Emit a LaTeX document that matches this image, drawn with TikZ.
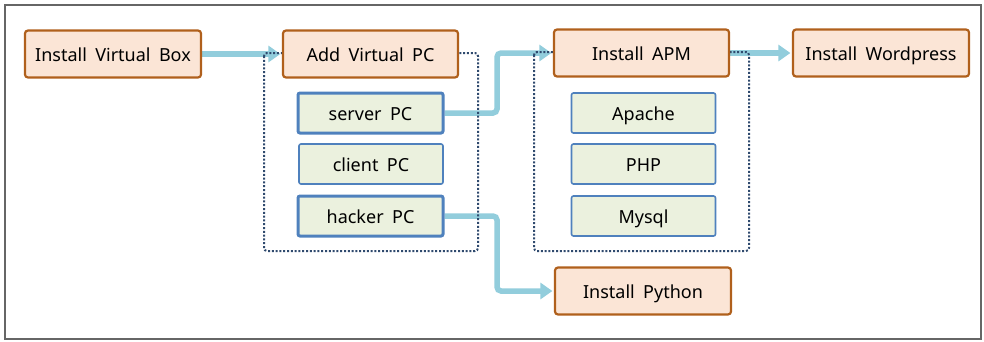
\documentclass[tikz,border=0pt]{standalone}
\usepackage{fontspec}
\setmainfont{Noto Sans}[WordSpace=1.8]
\usetikzlibrary{arrows.meta,backgrounds}

\definecolor{stepfill}{HTML}{FBE5D6}
\definecolor{stepline}{HTML}{B0601C}
\definecolor{pcfill}{HTML}{EBF1DE}
\definecolor{pcline}{HTML}{4F81BD}
\definecolor{flow}{HTML}{92CDDC}
\definecolor{groupline}{HTML}{2F4A6E}

\begin{document}
\begin{tikzpicture}[x = 1pt, y = -1pt,
		every node/.style = {font = \fontsize{18}{21}\selectfont, inner sep = 0pt, text height = 14.5pt, text depth = 0pt},
		stepbox/.style = {draw = stepline, line width = 2.2pt, fill = stepfill, rounded corners = 3pt, minimum height = 47, minimum width = 176},
		pcbox/.style = {draw = pcline, line width = 1.6pt, fill = pcfill, rounded corners = 2pt, minimum height = 40, minimum width = 144},
		pcboxthick/.style = {pcbox, line width = 3pt},
		flowline/.style = {draw = flow, line width = 5.5pt, rounded corners = 4pt, -{Triangle[width = 16pt, length = 12pt]}, shorten > = 1.5pt},
		group/.style = {draw = groupline, line width = 2pt, dash pattern = on 2pt off 1.8pt, rounded corners = 3pt}]
		\useasboundingbox (0,0) rectangle (984,341);
		\draw [draw = gray!80!black, line width = 2.4pt] (5,5) rectangle (981,339);
		
		\node (vbox) at (113,54) [stepbox] {Install Virtual Box};
		\node (addpc) at (370.5,54) [stepbox, minimum width = 175] {Add Virtual PC};
		\node (server) at (370.5,113) [pcboxthick, minimum width = 145] {server PC};
		\node (client) at (371,164) [pcbox] {client PC};
		\node (hacker) at (370.5,216) [pcboxthick, minimum width = 145] {hacker PC};
		
		\node (apm) at (641.5,53) [stepbox, minimum width = 175] {Install APM};
		\node (wp) at (881,53) [stepbox] {Install Wordpress};
		\node (apache) at (643.5,113) [pcbox] {Apache};
		\node (php) at (643.5,164) [pcbox] {PHP};
		\node (mysql) at (643.5,216) [pcbox] {Mysql};
		\node (python) at (643,291) [stepbox] {Install Python};
		
		\coordinate (split) at (497,0);
		
		\begin{scope}[on background layer]
		\draw [flowline] (vbox) -- (addpc);
		\draw [flowline] (server.east) -- (server.east -| split) |- (apm.west);
		\draw [flowline] (hacker.east) -- (hacker.east -| split) |- (python.west);
		\draw [flowline] (apm) -- (wp);
		\draw [group] (264,53) rectangle (478,251);
		\draw [group] (534,52) rectangle (749,251);
		\end{scope}
\end{tikzpicture}
\end{document}
